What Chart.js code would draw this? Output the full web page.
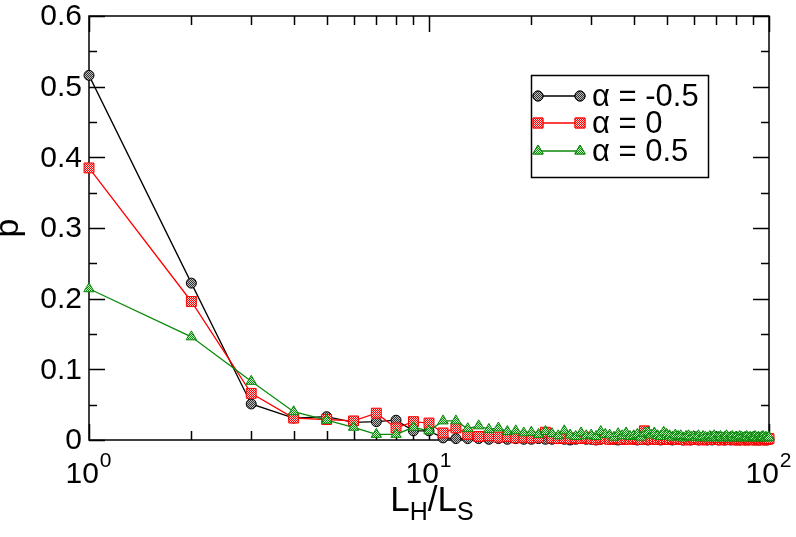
<!DOCTYPE html>
<html>
<head>
<meta charset="utf-8">
<title>p vs LH/LS</title>
<script src="https://cdn.jsdelivr.net/npm/chart.js@4.4.1/dist/chart.umd.min.js"></script>
<style>
body { margin:0; background:#fff; }
canvas { display:block; }
</style>
</head>
<body>
<canvas id="pChart" width="796" height="537"></canvas>
<script>
// ================================
// DATA
// ================================

const ratio = [
1,2,3,4,5,6,7,8,9,10,
11,12,13,14,15,16,17,18,19,20,
21,22,23,24,25,26,27,28,29,30,
31,32,33,34,35,36,37,38,39,40,
41,42,43,44,45,46,47,48,49,50,
51,52,53,54,55,56,57,58,59,60,
61,62,63,64,65,66,67,68,69,70,
71,72,73,74,75,76,77,78,79,80,
81,82,83,84,85,86,87,88,89,90,
91,92,93,94,95,96,97,98,99,100
];

const pAlphaMinus = [
0.516,0.222,0.051,0.031,0.033,0.025,0.026,0.028,0.013,0.013,
0.003,0.002,0.002,0.002,0.001,0.002,0.001,0.002,0.001,0.001,
0.002,0.001,0.001,0.002,0.001,0.000,0.001,0.002,0.001,0.001,
0.000,0.001,0.002,0.001,0.001,0.000,0.001,0.001,0.002,0.001,
0.000,0.001,0.001,0.000,0.002,0.001,0.001,0.000,0.001,0.001,
0.001,0.000,0.001,0.002,0.001,0.000,0.001,0.001,0.000,0.001,
0.001,0.000,0.001,0.001,0.002,0.000,0.001,0.000,0.001,0.001,
0.000,0.001,0.001,0.000,0.001,0.002,0.000,0.001,0.001,0.000,
0.001,0.000,0.001,0.001,0.000,0.001,0.000,0.001,0.001,0.000,
0.001,0.000,0.001,0.000,0.001,0.001,0.000,0.001,0.000,0.001
];

const pAlphaZero = [
0.385,0.196,0.066,0.031,0.029,0.027,0.038,0.017,0.026,0.024,
0.010,0.017,0.008,0.005,0.006,0.004,0.005,0.003,0.004,0.003,
0.004,0.011,0.003,0.002,0.003,0.002,0.003,0.002,0.004,0.002,
0.001,0.003,0.002,0.001,0.002,0.003,0.001,0.002,0.001,0.002,
0.003,0.001,0.013,0.002,0.001,0.002,0.001,0.003,0.001,0.002,
0.001,0.002,0.003,0.001,0.002,0.001,0.000,0.002,0.001,0.003,
0.001,0.002,0.001,0.000,0.002,0.001,0.002,0.001,0.003,0.001,
0.002,0.001,0.000,0.002,0.001,0.002,0.001,0.001,0.002,0.000,
0.001,0.002,0.001,0.002,0.000,0.001,0.002,0.001,0.001,0.002,
0.000,0.001,0.002,0.001,0.001,0.000,0.002,0.001,0.001,0.002
];

const pAlphaPlus = [
0.214,0.146,0.083,0.040,0.028,0.018,0.008,0.008,0.018,0.013,
0.027,0.027,0.016,0.020,0.015,0.017,0.012,0.013,0.010,0.011,
0.008,0.012,0.009,0.006,0.013,0.007,0.005,0.010,0.006,0.007,
0.005,0.012,0.008,0.007,0.004,0.009,0.006,0.010,0.005,0.006,
0.008,0.004,0.009,0.011,0.007,0.010,0.006,0.005,0.011,0.008,
0.006,0.004,0.007,0.005,0.006,0.003,0.005,0.006,0.004,0.005,
0.004,0.006,0.003,0.005,0.004,0.003,0.005,0.004,0.006,0.003,
0.004,0.005,0.003,0.004,0.006,0.003,0.004,0.005,0.003,0.004,
0.003,0.005,0.004,0.003,0.004,0.005,0.003,0.004,0.003,0.004,
0.005,0.003,0.004,0.003,0.004,0.005,0.003,0.004,0.003,0.004
];

const seriesNames = ['\u03b1 = -0.5', '\u03b1 = 0', '\u03b1 = 0.5'];

const yTickValues = [0, 0.1, 0.2, 0.3, 0.4, 0.5, 0.6];
const yTickLabels = ['0', '0.1', '0.2', '0.3', '0.4', '0.5', '0.6'];
const yMinorValues = [0.05, 0.15, 0.25, 0.35, 0.45, 0.55];
const xTickValues = [1, 10, 100];
const xTickExponents = ['0', '1', '2'];
const xMinorValues = [2,3,4,5,6,7,8,9,20,30,40,50,60,70,80,90];


// ================================
// HELPERS
// ================================

const canvas = document.getElementById('pChart');
const ctx = canvas.getContext('2d');

function checker(c1, c2) {
const pc = document.createElement('canvas');
pc.width = 2; pc.height = 2;
const g = pc.getContext('2d');
g.fillStyle = c2; g.fillRect(0, 0, 2, 2);
g.fillStyle = c1; g.fillRect(0, 0, 1, 1); g.fillRect(1, 1, 1, 1);
return ctx.createPattern(pc, 'repeat');
}

function toPoints(ys) {
return ratio.map((x, i) => ({ x: x, y: ys[i] }));
}

const GREEN = '#0a8a0a';
const FONT = '"Liberation Sans", Arial, Helvetica, sans-serif';

const series = [
{ data: pAlphaMinus, color: '#000000', fill: checker('#333333', '#bbbbbb'), style: 'circle', radius: 5, order: 3 },
{ data: pAlphaZero, color: '#ff0000', fill: checker('#ff0000', '#ffd0d0'), style: 'rect', radius: 7, order: 2 },
{ data: pAlphaPlus, color: GREEN, fill: checker(GREEN, '#c8f0c8'), style: 'triangle', radius: 6, order: 1 }
];


// ================================
// FRAME, TICKS, LABELS, LEGEND
// ================================

const framePlugin = {
id: 'frame',
beforeDatasetsDraw(chart) {
const c = chart.ctx;
const a = chart.chartArea;
const xs = chart.scales.x;
const ys = chart.scales.y;
c.save();
c.strokeStyle = '#000';
c.lineWidth = 1.5;
c.strokeRect(a.left, a.top, a.right - a.left, a.bottom - a.top);

c.beginPath();
yTickValues.forEach(v => {
const py = Math.round(ys.getPixelForValue(v)) + 0.5;
c.moveTo(a.left, py); c.lineTo(a.left + 16, py);
c.moveTo(a.right, py); c.lineTo(a.right - 16, py);
});
yMinorValues.forEach(v => {
const py = Math.round(ys.getPixelForValue(v)) + 0.5;
c.moveTo(a.left, py); c.lineTo(a.left + 8, py);
c.moveTo(a.right, py); c.lineTo(a.right - 8, py);
});
xTickValues.forEach(v => {
const px = Math.round(xs.getPixelForValue(v)) + 0.5;
c.moveTo(px, a.bottom); c.lineTo(px, a.bottom - 16);
c.moveTo(px, a.top); c.lineTo(px, a.top + 16);
});
xMinorValues.forEach(v => {
const px = Math.round(xs.getPixelForValue(v)) + 0.5;
c.moveTo(px, a.bottom); c.lineTo(px, a.bottom - 9);
c.moveTo(px, a.top); c.lineTo(px, a.top + 9);
});
c.lineWidth = 1.5;
c.stroke();

// y tick labels
c.fillStyle = '#000';
c.font = '30px ' + FONT;
c.textAlign = 'right';
c.textBaseline = 'middle';
yTickValues.forEach((v, i) => {
c.fillText(yTickLabels[i], a.left - 7, ys.getPixelForValue(v) + 1);
});

// x tick labels 10^n
c.textBaseline = 'alphabetic';
c.textAlign = 'left';
xTickValues.forEach((v, i) => {
c.font = '30px ' + FONT;
const wBase = c.measureText('10').width;
c.font = '21px ' + FONT;
const wExp = c.measureText(xTickExponents[i]).width;
const px = xs.getPixelForValue(v);
const left = px - (wBase + wExp) / 2 - 1;
c.font = '30px ' + FONT;
c.fillText('10', left, 483);
c.font = '21px ' + FONT;
c.fillText(xTickExponents[i], left + wBase + 1, 467);
});

// x axis title L_H/L_S
const parts = [['L', 35, 0], ['H', 25, 9], ['/', 35, 0], ['L', 35, 0], ['S', 25, 9]];
let total = 0;
parts.forEach(p => { c.font = p[1] + 'px ' + FONT; total += c.measureText(p[0]).width; });
let tx = 432 - total / 2;
parts.forEach(p => {
c.font = p[1] + 'px ' + FONT;
c.fillText(p[0], tx, 511 + p[2]);
tx += c.measureText(p[0]).width;
});

// y axis title
c.save();
c.translate(18, (a.top + a.bottom) / 2);
c.rotate(-Math.PI / 2);
c.textAlign = 'center';
c.font = '34px ' + FONT;
c.fillText('p', 0, 0);
c.restore();
c.restore();
},
afterDatasetsDraw(chart) {
const c = chart.ctx;
c.save();
c.fillStyle = '#fff';
c.fillRect(531, 75, 177, 102);
c.strokeStyle = '#000';
c.lineWidth = 1.5;
c.strokeRect(531.5, 75.5, 177, 102);
const rows = [96, 123, 151];
series.forEach((s, i) => {
const y = rows[i];
c.beginPath();
c.strokeStyle = s.color;
c.lineWidth = 1.3;
c.moveTo(538, y); c.lineTo(580, y);
c.stroke();
[538, 580].forEach(px => {
c.fillStyle = s.fill;
c.strokeStyle = s.color;
c.lineWidth = 1;
Chart.helpers.drawPoint(c, { pointStyle: s.style, radius: s.radius, borderWidth: 1, rotation: 0 }, px, y);
c.fill();
c.stroke();
});
c.fillStyle = '#000';
c.font = '31px ' + FONT;
c.textAlign = 'left';
c.textBaseline = 'middle';
c.fillText(seriesNames[i], 592, y + 1);
});
c.restore();
}
};


// ================================
// CHART
// ================================

const pChart = new Chart(canvas, {
type: 'line',
data: {
datasets: series.map((s, i) => ({
label: seriesNames[i],
data: toPoints(s.data),
borderColor: s.color,
borderWidth: 1.3,
backgroundColor: s.fill,
pointBackgroundColor: s.fill,
pointBorderColor: s.color,
pointBorderWidth: 1,
pointStyle: s.style,
pointRadius: s.radius,
tension: 0,
fill: false,
clip: false,
order: s.order
}))
},
options: {
responsive: false,
animation: false,
events: [],
layout: { padding: { left: 89, right: 27, top: 16, bottom: 97 } },
plugins: {
legend: { display: false },
tooltip: { enabled: false }
},
scales: {
x: { type: 'logarithmic', min: 1, max: 100, display: false },
y: { type: 'linear', min: 0, max: 0.6, display: false }
}
},
plugins: [framePlugin]
});
</script>
</body>
</html>
